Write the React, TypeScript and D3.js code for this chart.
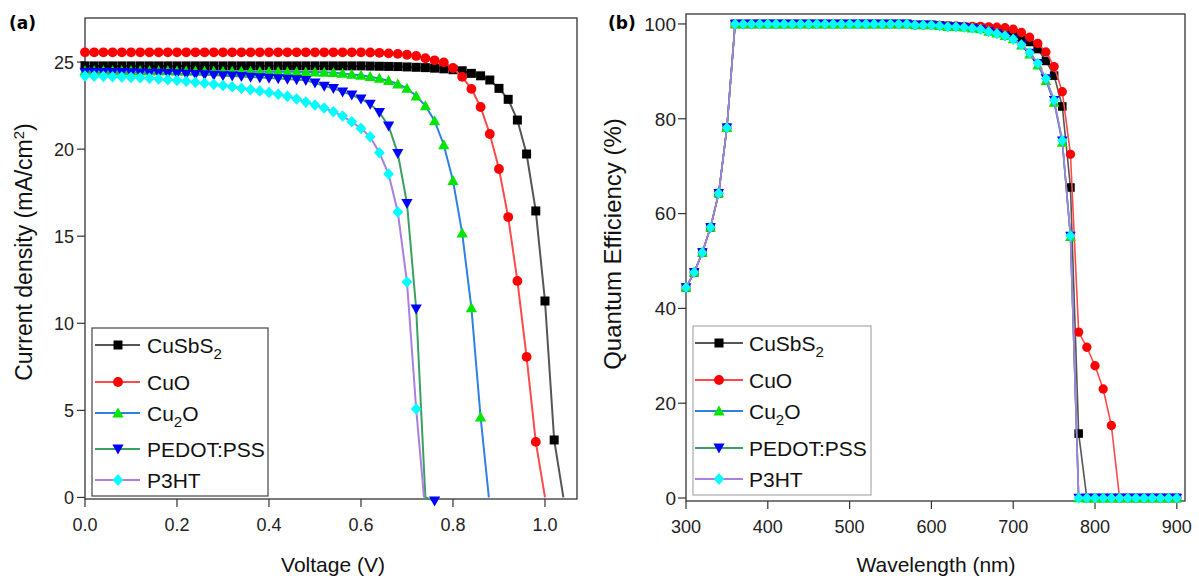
import React from 'react';
import * as d3 from 'd3';

// ---------- Panel (a): J–V data ----------
const voltage = [0, 0.02, 0.04, 0.06, 0.08, 0.1, 0.12, 0.14, 0.16, 0.18, 0.2, 0.22, 0.24, 0.26, 0.28, 0.3, 0.32, 0.34, 0.36, 0.38, 0.4, 0.42, 0.44, 0.46, 0.48, 0.5, 0.52, 0.54, 0.56, 0.58, 0.6, 0.62, 0.64, 0.66, 0.68, 0.7, 0.72, 0.74, 0.76, 0.78, 0.8, 0.82, 0.84, 0.86, 0.88, 0.9, 0.92, 0.94, 0.96, 0.98, 1.0, 1.02];

const jCuSbS2 = [24.78, 24.78, 24.78, 24.78, 24.78, 24.78, 24.78, 24.78, 24.78, 24.78, 24.78, 24.78, 24.78, 24.78, 24.78, 24.78, 24.78, 24.78, 24.78, 24.78, 24.78, 24.78, 24.78, 24.78, 24.78, 24.78, 24.78, 24.78, 24.78, 24.78, 24.78, 24.77, 24.76, 24.75, 24.74, 24.72, 24.7, 24.68, 24.65, 24.61, 24.56, 24.5, 24.35, 24.21, 23.97, 23.49, 22.86, 21.67, 19.72, 16.45, 11.28, 3.3];
const jCuO = [25.56, 25.56, 25.56, 25.56, 25.56, 25.56, 25.56, 25.56, 25.56, 25.56, 25.56, 25.56, 25.56, 25.56, 25.56, 25.56, 25.56, 25.56, 25.56, 25.56, 25.56, 25.56, 25.56, 25.56, 25.56, 25.56, 25.56, 25.56, 25.56, 25.56, 25.56, 25.55, 25.53, 25.5, 25.47, 25.42, 25.35, 25.22, 25.1, 24.98, 24.66, 24.15, 23.46, 22.42, 20.87, 18.86, 16.1, 12.43, 8.07, 3.19];
const jCu2O = [24.5, 24.5, 24.5, 24.5, 24.5, 24.5, 24.5, 24.49, 24.49, 24.49, 24.48, 24.48, 24.48, 24.47, 24.47, 24.47, 24.46, 24.46, 24.46, 24.45, 24.45, 24.45, 24.44, 24.44, 24.43, 24.43, 24.41, 24.39, 24.35, 24.29, 24.24, 24.16, 24.06, 23.93, 23.74, 23.49, 23.05, 22.48, 21.63, 20.24, 18.19, 15.18, 10.88, 4.62];
const jPEDOT = [24.42, 24.42, 24.41, 24.41, 24.4, 24.39, 24.38, 24.37, 24.36, 24.35, 24.33, 24.31, 24.29, 24.27, 24.25, 24.22, 24.2, 24.17, 24.14, 24.11, 24.08, 24.05, 24.02, 23.99, 23.95, 23.8, 23.62, 23.49, 23.29, 23.11, 22.88, 22.59, 22.11, 21.33, 19.76, 16.89, 10.82, null, -0.2];
const jP3HT = [24.2, 24.19, 24.18, 24.16, 24.14, 24.12, 24.1, 24.07, 24.03, 23.99, 23.95, 23.9, 23.84, 23.78, 23.72, 23.65, 23.58, 23.5, 23.42, 23.34, 23.25, 23.15, 23.03, 22.88, 22.7, 22.53, 22.36, 22.15, 21.9, 21.57, 21.19, 20.71, 19.79, 18.57, 16.39, 12.37, 5.08];
// open-circuit voltages (where each curve meets J = 0)
const vocValues = [1.04, 1.0, 0.878, 0.74, 0.737];

const voltageTicks = [0, 0.2, 0.4, 0.6, 0.8, 1.0];
const currentTicks = [0, 5, 10, 15, 20, 25];

// ---------- Panel (b): QE data ----------
const wavelength = [300, 310, 320, 330, 340, 350, 360, 370, 380, 390, 400, 410, 420, 430, 440, 450, 460, 470, 480, 490, 500, 510, 520, 530, 540, 550, 560, 570, 580, 590, 600, 610, 620, 630, 640, 650, 660, 670, 680, 690, 700, 710, 720, 730, 740, 750, 760, 770, 780, 790, 800, 810, 820, 830, 840, 850, 860, 870, 880, 890, 900];

const qeCuSbS2 = [44.4, 47.6, 51.8, 57.1, 64.3, 78.1, 100, 100, 100, 100, 100, 100, 100, 100, 100, 100, 100, 100, 100, 100, 100, 100, 100, 100, 100, 100, 100, 100, 99.8, 99.8, 99.8, 99.7, 99.6, 99.5, 99.4, 99.3, 99.2, 99.0, 98.8, 98.4, 97.9, 97.2, 96.2, 94.7, 92.2, 89.1, 82.6, 65.5, 13.6, 0, 0, 0, 0, 0, 0, 0, 0, 0, 0, 0, 0];
const qeCuO = [44.4, 47.6, 51.8, 57.1, 64.3, 78.1, 100, 100, 100, 100, 100, 100, 100, 100, 100, 100, 100, 100, 100, 100, 100, 100, 100, 100, 100, 100, 100, 100, 99.8, 99.8, 99.8, 99.7, 99.6, 99.6, 99.5, 99.5, 99.5, 99.4, 99.3, 99.2, 98.9, 98.2, 97.2, 95.9, 94.1, 91.0, 85.7, 72.5, 35.0, 31.8, 27.9, 23.0, 15.3, 0, 0, 0, 0, 0, 0, 0, 0];
const qeCu2O = [44.4, 47.6, 51.8, 57.1, 64.3, 78.1, 100, 100, 100, 100, 100, 100, 100, 100, 100, 100, 100, 100, 100, 100, 100, 100, 100, 100, 100, 100, 100, 100, 99.8, 99.8, 99.8, 99.6, 99.4, 99.4, 99.3, 99.1, 98.9, 98.4, 98.0, 97.5, 96.8, 95.5, 93.6, 91.3, 88.0, 83.4, 75.0, 55.1, 0, 0, 0, 0, 0, 0, 0, 0, 0, 0, 0, 0, 0];
const qePEDOT = [44.4, 47.6, 51.8, 57.1, 64.3, 78.1, 100, 100, 100, 100, 100, 100, 100, 100, 100, 100, 100, 100, 100, 100, 100, 100, 100, 100, 100, 100, 100, 100, 99.8, 99.8, 99.8, 99.6, 99.4, 99.4, 99.3, 99.1, 98.9, 98.4, 98.0, 97.5, 96.8, 95.6, 93.9, 91.7, 88.5, 83.9, 75.4, 55.3, 0, 0, 0, 0, 0, 0, 0, 0, 0, 0, 0, 0, 0];
const qeP3HT = [44.4, 47.6, 51.8, 57.1, 64.3, 78.1, 100, 100, 100, 100, 100, 100, 100, 100, 100, 100, 100, 100, 100, 100, 100, 100, 100, 100, 100, 100, 100, 100, 99.8, 99.8, 99.8, 99.6, 99.4, 99.4, 99.3, 99.1, 98.9, 98.4, 98.0, 97.5, 96.8, 95.6, 93.9, 91.7, 88.5, 83.9, 75.4, 55.3, 0, 0, 0, 0, 0, 0, 0, 0, 0, 0, 0, 0, 0];

const wavelengthTicks = [300, 400, 500, 600, 700, 800, 900];
const qeTicks = [0, 20, 40, 60, 80, 100];

// ---------- series styling ----------
const seriesNames = ['CuSbS2', 'CuO', 'Cu2O', 'PEDOT:PSS', 'P3HT'];
const lineColors = ['#555555', '#ff4a4a', '#2f80e4', '#3c9f62', '#a97fe0'];
const markerColors = ['#000000', '#ff0000', '#00e600', '#0000ff', '#00ffff'];
const markerShapes = ['square', 'circle', 'triUp', 'triDown', 'diamond'];

const FONT = 'Liberation Sans, Arial, Helvetica, sans-serif';

function Marker({ shape, x, y, color, s = 1 }: { shape: string; x: number; y: number; color: string; s?: number }) {
  const t = `translate(${x},${y}) scale(${s})`;
  if (shape === 'circle') return <circle cx={x} cy={y} r={4.9 * s} fill={color} />;
  let d = '';
  if (shape === 'square') d = 'M-4.5,-4.5H4.5V4.5H-4.5Z';
  if (shape === 'triUp') d = 'M0,-5.6L5.6,4.4L-5.6,4.4Z';
  if (shape === 'triDown') d = 'M0,5.6L5.6,-4.4L-5.6,-4.4Z';
  if (shape === 'diamond') d = 'M0,-5.8L5.4,0L0,5.8L-5.4,0Z';
  return <path d={d} transform={t} fill={color} />;
}

function SeriesLabel({ name }: { name: string }) {
  if (name === 'CuSbS2')
    return (<>CuSbS<tspan dy={6} fontSize={15}>2</tspan></>);
  if (name === 'Cu2O')
    return (<>Cu<tspan dy={6} fontSize={15}>2</tspan><tspan dy={-6}>O</tspan></>);
  return <>{name}</>;
}

function Legend({ x, y, w, h, rows, stroke, lineX0, lineX1, markX, textX }: any) {
  return (
    <g>
      <rect x={x} y={y} width={w} height={h} fill="#fff" stroke={stroke} strokeWidth={1.2} />
      {seriesNames.map((n, i) => (
        <g key={n}>
          <line x1={lineX0} x2={lineX1} y1={rows[i]} y2={rows[i]} stroke={lineColors[i]} strokeWidth={2} />
          <Marker shape={markerShapes[i]} x={markX} y={rows[i]} color={markerColors[i]} />
          <text x={textX} y={rows[i]} dy="0.36em" fontSize={21} fontFamily={FONT} fill="#111">
            <SeriesLabel name={n} />
          </text>
        </g>
      ))}
    </g>
  );
}

export default function App() {
  // ----- panel (a) -----
  const ax = d3.scaleLinear().domain([0, 1.0696]).range([85, 577]);
  const ay = d3.scaleLinear().domain([-0.09, 27.53]).range([499, 18]);
  const jSeries = [jCuSbS2, jCuO, jCu2O, jPEDOT, jP3HT];
  const aLine = d3.line<[number, number]>().x(d => ax(d[0])).y(d => ay(d[1]));

  // ----- panel (b) -----
  const bx = d3.scaleLinear().domain([300, 910]).range([686, 1185]);
  const by = d3.scaleLinear().domain([-0.63, 102.1]).range([501, 14]);
  const qeSeries = [qeCuSbS2, qeCuO, qeCu2O, qePEDOT, qeP3HT];
  const bLine = d3.line<[number, number]>().x(d => bx(d[0])).y(d => by(d[1]));

  return (
    <svg width={1199} height={580} style={{ position: 'absolute', left: 0, top: 0, background: '#fff' }}>
      <rect x={0} y={0} width={1199} height={580} fill="#fff" />

      {/* ================= Panel (a) ================= */}
      <text x={9} y={29} fontSize={17} fontWeight="bold" fontFamily="DejaVu Sans, Verdana, sans-serif">(a)</text>
      <rect x={ax.range()[0]} y={ay.range()[1]} width={ax.range()[1] - ax.range()[0]} height={ay.range()[0] - ay.range()[1]} fill="none" stroke="#333" strokeWidth={1.3} />
      {voltageTicks.map(t => (
        <g key={'vx' + t}>
          <line x1={ax(t)} x2={ax(t)} y1={499} y2={507} stroke="#333" strokeWidth={1.2} />
          <text x={ax(t)} y={531} textAnchor="middle" fontSize={18} fontFamily={FONT} fill="#222">{t.toFixed(1)}</text>
        </g>
      ))}
      {currentTicks.map(t => (
        <g key={'vy' + t}>
          <line x1={77} x2={85} y1={ay(t)} y2={ay(t)} stroke="#333" strokeWidth={1.2} />
          <text x={74} y={ay(t)} dy="0.36em" textAnchor="end" fontSize={18} fontFamily={FONT} fill="#222">{t}</text>
        </g>
      ))}
      <text x={333} y={572} textAnchor="middle" fontSize={21} fontFamily={FONT} fill="#111">Voltage (V)</text>
      <text transform="translate(32,252) rotate(-90)" textAnchor="middle" fontSize={23} fontFamily={FONT} fill="#111">
        Current density (mA/cm<tspan dy={-8} fontSize={15}>2</tspan><tspan dy={8}>)</tspan>
      </text>

      {jSeries.map((js, i) => {
        const pts: [number, number][] = [];
        js.forEach((j, k) => { if (j !== null) pts.push([voltage[k], j as number]); });
        const linePts = [...pts, [vocValues[i], 0] as [number, number]].sort((p, q) => p[0] - q[0]);
        return (
          <g key={'a' + i}>
            <path d={aLine(linePts) || ''} fill="none" stroke={lineColors[i]} strokeWidth={2} />
            {pts.map((p, k) => (
              <Marker key={k} shape={markerShapes[i]} x={ax(p[0])} y={ay(p[1])} color={markerColors[i]} />
            ))}
          </g>
        );
      })}

      <Legend x={92} y={328} w={176} h={168} rows={[345, 382, 413, 449, 480]} stroke="#444"
        lineX0={95} lineX1={140} markX={118} textX={147} />

      {/* ================= Panel (b) ================= */}
      <text x={608} y={29} fontSize={17} fontWeight="bold" fontFamily="DejaVu Sans, Verdana, sans-serif">(b)</text>
      <rect x={bx.range()[0]} y={by.range()[1]} width={bx.range()[1] - bx.range()[0]} height={by.range()[0] - by.range()[1]} fill="none" stroke="#333" strokeWidth={1.3} />
      {wavelengthTicks.map(t => (
        <g key={'wx' + t}>
          <line x1={bx(t)} x2={bx(t)} y1={501} y2={509} stroke="#333" strokeWidth={1.2} />
          <text x={bx(t)} y={533} textAnchor="middle" fontSize={18} fontFamily={FONT} fill="#222">{t}</text>
        </g>
      ))}
      {qeTicks.map(t => (
        <g key={'wy' + t}>
          <line x1={678} x2={686} y1={by(t)} y2={by(t)} stroke="#333" strokeWidth={1.2} />
          <text x={676} y={by(t)} dy="0.36em" textAnchor="end" fontSize={19} fontFamily={FONT} fill="#222">{t}</text>
        </g>
      ))}
      <text x={936} y={572} textAnchor="middle" fontSize={21} fontFamily={FONT} fill="#111">Wavelength (nm)</text>
      <text transform="translate(621,244) rotate(-90)" textAnchor="middle" fontSize={24} fontFamily={FONT} fill="#111">Quantum Efficiency (%)</text>

      {qeSeries.map((qs, i) => {
        const pts: [number, number][] = qs.map((q, k) => [wavelength[k], q]);
        return (
          <g key={'b' + i}>
            <path d={bLine(pts) || ''} fill="none" stroke={lineColors[i]} strokeWidth={1.6} />
            {pts.map((p, k) => (
              <Marker key={k} shape={markerShapes[i]} x={bx(p[0])} y={by(p[1])} color={markerColors[i]} s={0.95} />
            ))}
          </g>
        );
      })}

      <Legend x={693} y={326} w={178} h={169} rows={[343, 380, 411, 448, 479]} stroke="#aaa"
        lineX0={695} lineX1={743} markX={719} textX={749} />
    </svg>
  );
}
